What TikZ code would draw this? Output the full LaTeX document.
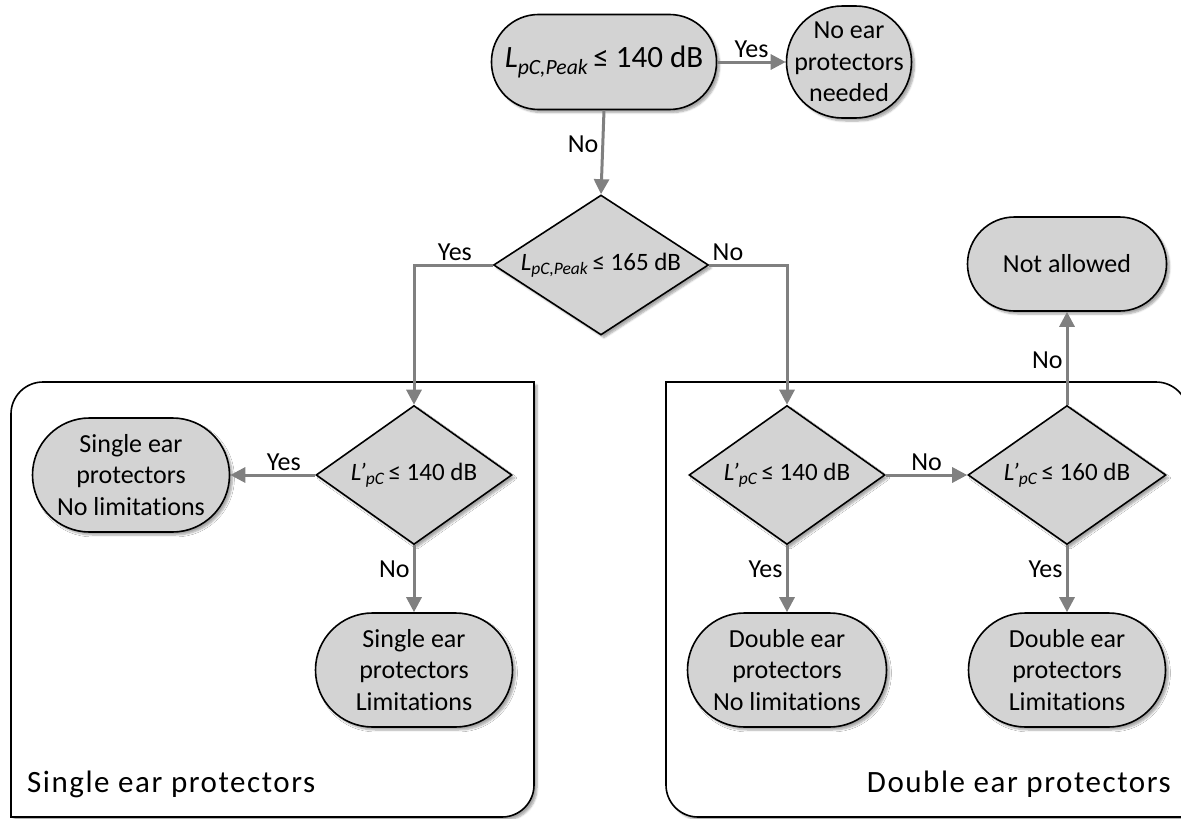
\documentclass[tikz,border=0pt]{standalone}
\usepackage{fontspec}
\setmainfont{Carlito}[Ligatures=NoCommon]
\usetikzlibrary{shapes.geometric,arrows.meta,shadows.blur}
\definecolor{nodefill}{HTML}{D3D3D3}
\definecolor{conngray}{HTML}{808080}
\begin{document}
\begin{tikzpicture}[x=1pt,y=-1pt,
  shd/.style={blur shadow={shadow xshift=3pt,shadow yshift=-3pt,shadow blur steps=6,shadow opacity=35}},
  pill/.style={rectangle,draw=black,line width=1.6pt,fill=nodefill,align=center,inner sep=2pt,
    font=\fontsize{26}{31.5}\selectfont,shd},
  dia/.style={diamond,draw=black,line width=1.6pt,fill=nodefill,inner sep=0pt,
    font=\fontsize{25}{30}\selectfont,shd},
  link/.style={draw=conngray,line width=3pt,-{Triangle[length=15pt,width=15pt]}},
  lbl/.style={font=\fontsize{26}{30}\selectfont,inner sep=3pt,text=black},
  frame/.style={draw=black,line width=1.6pt,fill=white,shd},
  title/.style={font=\fontsize{31}{36}\selectfont\addfontfeatures{LetterSpace=5},inner sep=0pt}
]
\useasboundingbox (0,0) rectangle (1181,819);

% group frames
\path[frame] (11,817) [rounded corners=32pt] -- (11,382) [sharp corners] -- (534,382)
  [rounded corners=32pt] -- (534,817) [sharp corners] -- cycle;
\path[frame] (666,382) [rounded corners=32pt] -- (1188,382) [sharp corners] -- (1188,817)
  [rounded corners=32pt] -- (666,817) [sharp corners] -- cycle;
\node[title,anchor=base west] (tsingle) at (27,792) {Single ear protectors};
\node[title,anchor=base east] (tdouble) at (1171,792) {Double ear protectors};

% nodes
\node[pill,minimum width=225pt,minimum height=95pt,rounded corners=47pt,font=\fontsize{31}{36}\selectfont]
  (A) at (604,62) {{\itshape L}\textsubscript{\itshape pC,Peak}\,≤ 140 dB};
\node[pill,minimum width=125pt,minimum height=112pt,rounded corners=56pt]
  (B) at (849,62) {No ear\\protectors\\needed};
\node[dia,minimum width=215pt,minimum height=140pt]
  (C) at (601,265) {\makebox[0pt]{{\itshape L}\textsubscript{\itshape pC,Peak}\,≤ 165 dB}};
\node[pill,minimum width=199pt,minimum height=94pt,rounded corners=47pt]
  (K) at (1067,264) {Not allowed};
\node[dia,minimum width=196pt,minimum height=139pt]
  (D) at (414,475) {\makebox[0pt]{{\itshape L’}\textsubscript{\itshape pC}\,≤ 140 dB}};
\node[pill,minimum width=197pt,minimum height=114pt,rounded corners=57pt]
  (E) at (131,475) {Single ear\\protectors\\No limitations};
\node[pill,minimum width=197pt,minimum height=114pt,rounded corners=57pt]
  (F) at (414,670) {Single ear\\protectors\\Limitations};
\node[dia,minimum width=196pt,minimum height=139pt]
  (G) at (787,475) {\makebox[0pt]{{\itshape L’}\textsubscript{\itshape pC}\,≤ 140 dB}};
\node[dia,minimum width=198pt,minimum height=139pt]
  (H) at (1067,475) {\makebox[0pt]{{\itshape L’}\textsubscript{\itshape pC}\,≤ 160 dB}};
\node[pill,minimum width=199pt,minimum height=114pt,rounded corners=57pt]
  (I) at (787,670) {Double ear\\protectors\\No limitations};
\node[pill,minimum width=197pt,minimum height=114pt,rounded corners=57pt]
  (J) at (1067,670) {Double ear\\protectors\\Limitations};

% connectors
\draw[link] (A.east) -- node[lbl,above]{Yes} (B.west);
\draw[link] (A.south) -- node[lbl,left,pos=0.41]{No} (C.north);
\draw[link] (C.west) -| node[lbl,above,pos=0.24]{Yes} (D.north);
\draw[link] (C.east) -| node[lbl,above,pos=0.12]{No} (G.north);
\draw[link] (D.west) -- node[lbl,above,pos=0.37]{Yes} (E.east);
\draw[link] (D.south) -- node[lbl,left,pos=0.36]{No} (F.north);
\draw[link] (G.east) -- node[lbl,above]{No} (H.west);
\draw[link] (G.south) -- node[lbl,left,pos=0.36]{Yes} (I.north);
\draw[link] (H.south) -- node[lbl,left,pos=0.36]{Yes} (J.north);
\draw[link] (H.north) -- node[lbl,left,pos=0.48]{No} (K.south);
\end{tikzpicture}
\end{document}
